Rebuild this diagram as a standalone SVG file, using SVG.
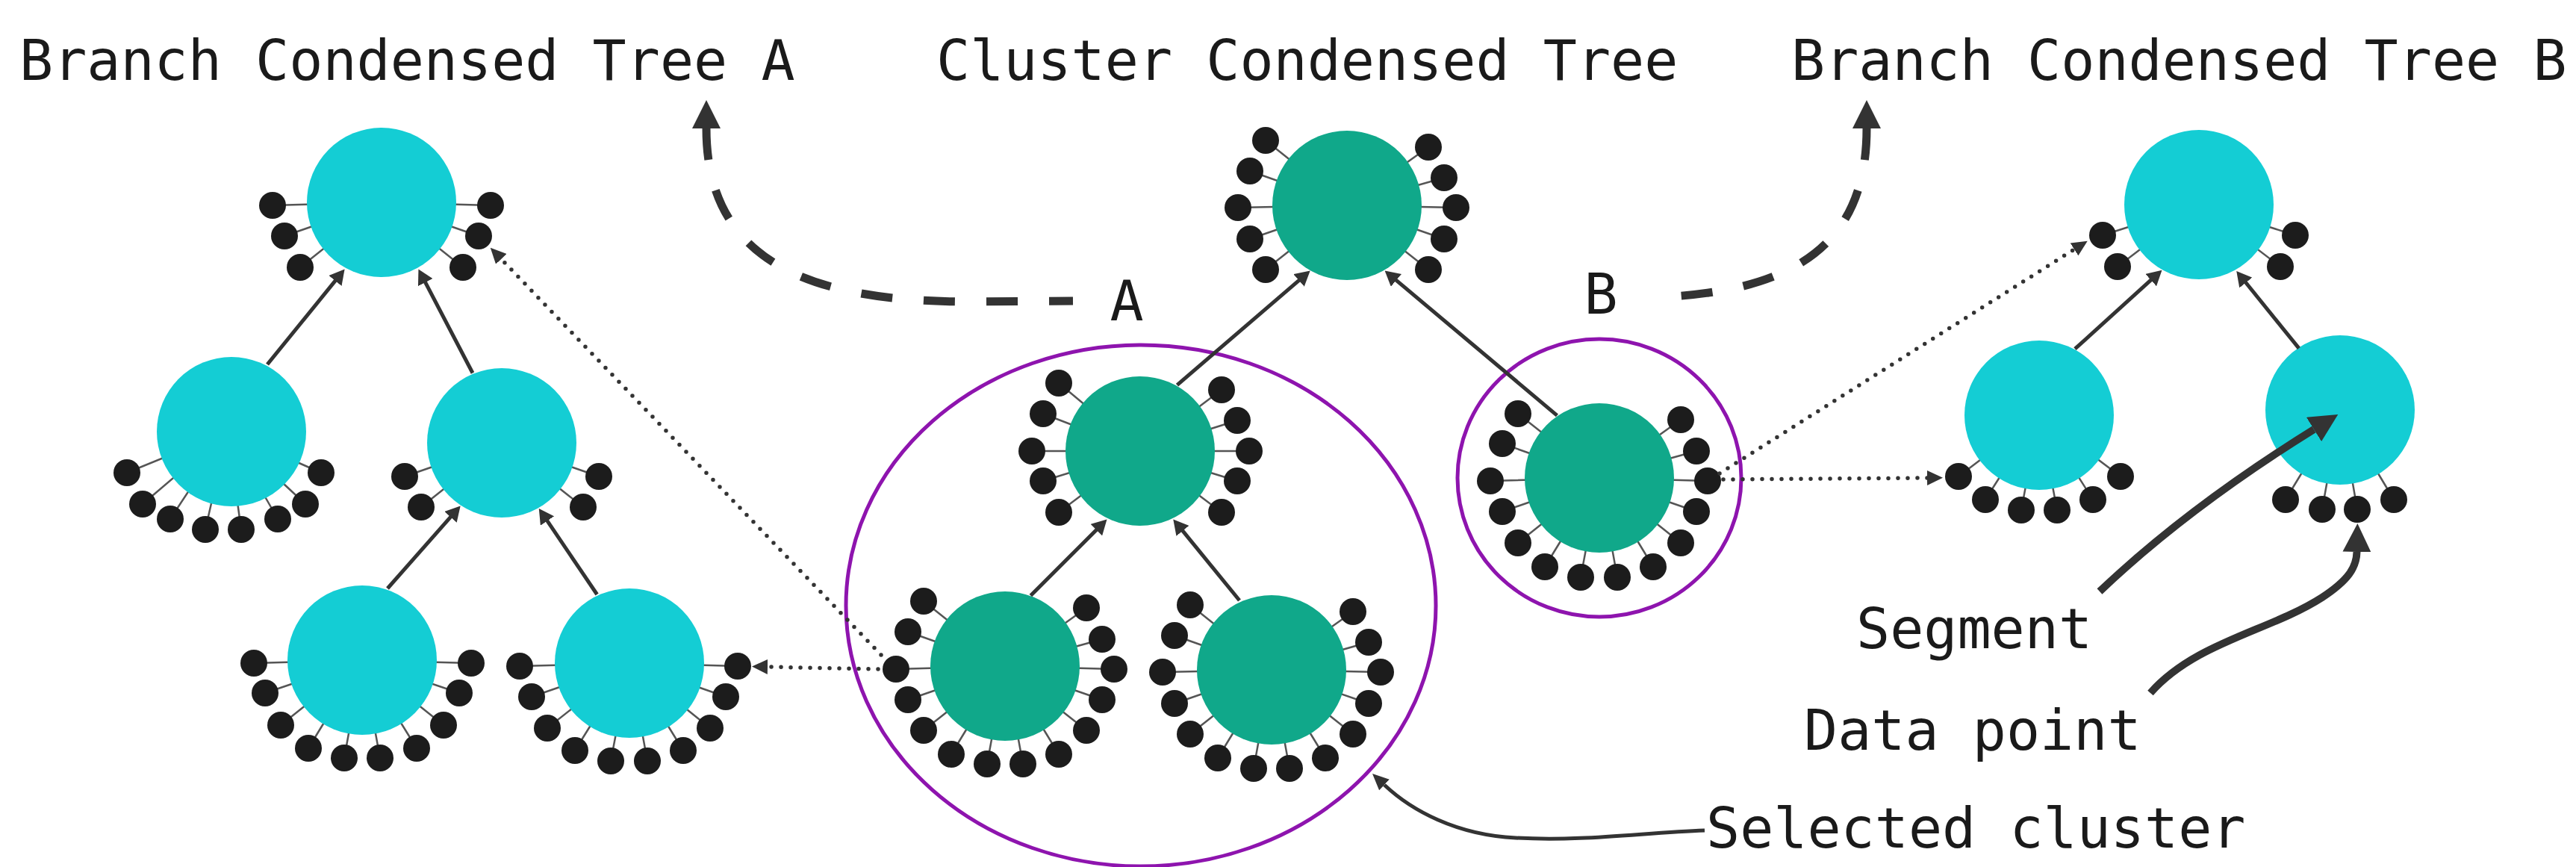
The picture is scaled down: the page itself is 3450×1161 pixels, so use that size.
<svg xmlns="http://www.w3.org/2000/svg" width="3450" height="1161" viewBox="0 0 3450 1161">
<style>
.t{font-family:"DejaVu Sans Mono","Liberation Mono",monospace;font-size:75px;fill:#1a1a1a}
.cy{fill:#14cdd4}
.gr{fill:#10a88a}
.d{fill:#1c1c1c}
.sp{stroke:#555;stroke-width:2.5;fill:none}
.sel{fill:none;stroke:#8e14ae;stroke-width:5}
.edge{fill:none;stroke:#333;stroke-width:5;marker-end:url(#ah)}
.dotl{fill:none;stroke:#333;stroke-width:5.5;stroke-linecap:round;stroke-dasharray:0 13;marker-end:url(#ad)}
.dash{fill:none;stroke:#333;stroke-width:11;stroke-dasharray:42 42;marker-start:url(#ab)}
.call{fill:none;stroke:#333;stroke-width:10;marker-end:url(#ab)}
.callt{fill:none;stroke:#333;stroke-width:5;marker-end:url(#as)}
</style>
<defs>
<marker id="ah" markerUnits="userSpaceOnUse" viewBox="0 0 20 22" markerWidth="20" markerHeight="22" refX="8" refY="11" orient="auto"><path d="M0,0 L20,11 L0,22 z" fill="#333"/></marker>
<marker id="ad" markerUnits="userSpaceOnUse" viewBox="0 0 21 20" markerWidth="21" markerHeight="20" refX="0" refY="10" orient="auto"><path d="M0,0 L21,10 L0,20 z" fill="#333"/></marker>
<marker id="ab" markerUnits="userSpaceOnUse" viewBox="0 0 38 38" markerWidth="38" markerHeight="38" refX="0" refY="19" orient="auto-start-reverse"><path d="M0,0 L38,19 L0,38 z" fill="#333"/></marker>
<marker id="as" markerUnits="userSpaceOnUse" viewBox="0 0 22 20" markerWidth="22" markerHeight="20" refX="0" refY="10" orient="auto"><path d="M0,0 L22,10 L0,20 z" fill="#333"/></marker>
</defs>
<rect width="3450" height="1161" fill="#fff"/>

<g id="titles">
<text class="t" x="26" y="107">Branch Condensed Tree A</text>
<text class="t" x="1254" y="107">Cluster Condensed Tree</text>
<text class="t" x="2399" y="107">Branch Condensed Tree B</text>
<text class="t" x="1509" y="429" text-anchor="middle">A</text>
<text class="t" x="2144" y="420" text-anchor="middle">B</text>
<text class="t" x="2486" y="868">Segment</text>
<text class="t" x="2416" y="1004">Data point</text>
<text class="t" x="2285" y="1135">Selected cluster</text>
</g>

<g id="selected-clusters">
<ellipse id="cluster-A" class="sel" cx="1528" cy="811" rx="395" ry="349"/>
<ellipse id="cluster-B" class="sel" cx="2142" cy="640" rx="190" ry="186"/>
</g>

<!-- Branch Condensed Tree A -->
<g id="bA-top">
<path class="sp" d="M365,275L511,271M381,316L511,271M402,358L511,271M657,275L511,271M641,316L511,271M620,358L511,271"/>
<circle class="cy" cx="511" cy="271" r="100"/>
<circle class="d" cx="365" cy="275" r="18"/><circle class="d" cx="381" cy="316" r="18"/><circle class="d" cx="402" cy="358" r="18"/>
<circle class="d" cx="657" cy="275" r="18"/><circle class="d" cx="641" cy="316" r="18"/><circle class="d" cx="620" cy="358" r="18"/>
</g>
<g id="bA-midleft">
<path class="sp" d="M170,633L305,578M191,675L305,578M228,695L305,578M275,709L305,578M323,709L305,578M372,695L305,578M409,675L305,578M430,633L305,578"/>
<circle class="cy" cx="310" cy="578" r="100"/>
<circle class="d" cx="170" cy="633" r="18"/><circle class="d" cx="191" cy="675" r="18"/><circle class="d" cx="228" cy="695" r="18"/><circle class="d" cx="275" cy="709" r="18"/>
<circle class="d" cx="323" cy="709" r="18"/><circle class="d" cx="372" cy="695" r="18"/><circle class="d" cx="409" cy="675" r="18"/><circle class="d" cx="430" cy="633" r="18"/>
</g>
<g id="bA-midright">
<path class="sp" d="M542,638L672,593M564,679L672,593M802,638L672,593M781,679L672,593"/>
<circle class="cy" cx="672" cy="593" r="100"/>
<circle class="d" cx="542" cy="638" r="18"/><circle class="d" cx="564" cy="679" r="18"/><circle class="d" cx="802" cy="638" r="18"/><circle class="d" cx="781" cy="679" r="18"/>
</g>
<g id="bA-botleft">
<path class="sp" d="M340,888L485,884M355,928L485,884M376,971L485,884M413,1002L485,884M461,1015L485,884M509,1015L485,884M558,1002L485,884M594,971L485,884M615,928L485,884M631,888L485,884"/>
<circle class="cy" cx="485" cy="884" r="100"/>
<circle class="d" cx="340" cy="888" r="18"/><circle class="d" cx="355" cy="928" r="18"/><circle class="d" cx="376" cy="971" r="18"/><circle class="d" cx="413" cy="1002" r="18"/><circle class="d" cx="461" cy="1015" r="18"/>
<circle class="d" cx="509" cy="1015" r="18"/><circle class="d" cx="558" cy="1002" r="18"/><circle class="d" cx="594" cy="971" r="18"/><circle class="d" cx="615" cy="928" r="18"/><circle class="d" cx="631" cy="888" r="18"/>
</g>
<g id="bA-botright">
<path class="sp" d="M696,892L843,888M712,933L843,888M733,975L843,888M770,1005L843,888M818,1019L843,888M867,1019L843,888M915,1005L843,888M951,975L843,888M972,933L843,888M988,892L843,888"/>
<circle class="cy" cx="843" cy="888" r="100"/>
<circle class="d" cx="696" cy="892" r="18"/><circle class="d" cx="712" cy="933" r="18"/><circle class="d" cx="733" cy="975" r="18"/><circle class="d" cx="770" cy="1005" r="18"/><circle class="d" cx="818" cy="1019" r="18"/>
<circle class="d" cx="867" cy="1019" r="18"/><circle class="d" cx="915" cy="1005" r="18"/><circle class="d" cx="951" cy="975" r="18"/><circle class="d" cx="972" cy="933" r="18"/><circle class="d" cx="988" cy="892" r="18"/>
</g>

<!-- Cluster Condensed Tree -->
<g id="c-root">
<path class="sp" d="M1695,188L1804,275M1674,229L1804,275M1658,278L1804,275M1674,320L1804,275M1695,361L1804,275M1913,361L1804,275M1934,320L1804,275M1950,278L1804,275M1934,238L1804,275M1913,197L1804,275"/>
<circle class="gr" cx="1804" cy="275" r="100"/>
<circle class="d" cx="1695" cy="188" r="18"/><circle class="d" cx="1674" cy="229" r="18"/><circle class="d" cx="1658" cy="278" r="18"/><circle class="d" cx="1674" cy="320" r="18"/><circle class="d" cx="1695" cy="361" r="18"/>
<circle class="d" cx="1913" cy="361" r="18"/><circle class="d" cx="1934" cy="320" r="18"/><circle class="d" cx="1950" cy="278" r="18"/><circle class="d" cx="1934" cy="238" r="18"/><circle class="d" cx="1913" cy="197" r="18"/>
</g>
<g id="c-A-top">
<path class="sp" d="M1418,513L1527,604M1397,554L1527,604M1382,604L1527,604M1397,644L1527,604M1418,686L1527,604M1636,686L1527,604M1657,644L1527,604M1673,604L1527,604M1657,563L1527,604M1636,522L1527,604"/>
<circle class="gr" cx="1527" cy="604" r="100"/>
<circle class="d" cx="1418" cy="513" r="18"/><circle class="d" cx="1397" cy="554" r="18"/><circle class="d" cx="1382" cy="604" r="18"/><circle class="d" cx="1397" cy="644" r="18"/><circle class="d" cx="1418" cy="686" r="18"/>
<circle class="d" cx="1636" cy="686" r="18"/><circle class="d" cx="1657" cy="644" r="18"/><circle class="d" cx="1673" cy="604" r="18"/><circle class="d" cx="1657" cy="563" r="18"/><circle class="d" cx="1636" cy="522" r="18"/>
</g>
<g id="c-A-botleft">
<path class="sp" d="M1237,805L1346,892M1216,846L1346,892M1200,896L1346,892M1216,937L1346,892M1237,978L1346,892M1274,1010L1346,892M1322,1023L1346,892M1370,1023L1346,892M1418,1010L1346,892M1455,978L1346,892M1476,937L1346,892M1492,896L1346,892M1476,856L1346,892M1455,814L1346,892"/>
<circle class="gr" cx="1346" cy="892" r="100"/>
<circle class="d" cx="1237" cy="805" r="18"/><circle class="d" cx="1216" cy="846" r="18"/><circle class="d" cx="1200" cy="896" r="18"/><circle class="d" cx="1216" cy="937" r="18"/><circle class="d" cx="1237" cy="978" r="18"/><circle class="d" cx="1274" cy="1010" r="18"/><circle class="d" cx="1322" cy="1023" r="18"/>
<circle class="d" cx="1370" cy="1023" r="18"/><circle class="d" cx="1418" cy="1010" r="18"/><circle class="d" cx="1455" cy="978" r="18"/><circle class="d" cx="1476" cy="937" r="18"/><circle class="d" cx="1492" cy="896" r="18"/><circle class="d" cx="1476" cy="856" r="18"/><circle class="d" cx="1455" cy="814" r="18"/>
</g>
<g id="c-A-botright">
<path class="sp" d="M1594,810L1703,897M1573,851L1703,897M1557,900L1703,897M1573,942L1703,897M1594,983L1703,897M1631,1015L1703,897M1679,1029L1703,897M1727,1029L1703,897M1775,1015L1703,897M1812,983L1703,897M1833,942L1703,897M1849,900L1703,897M1833,860L1703,897M1812,819L1703,897"/>
<circle class="gr" cx="1703" cy="897" r="100"/>
<circle class="d" cx="1594" cy="810" r="18"/><circle class="d" cx="1573" cy="851" r="18"/><circle class="d" cx="1557" cy="900" r="18"/><circle class="d" cx="1573" cy="942" r="18"/><circle class="d" cx="1594" cy="983" r="18"/><circle class="d" cx="1631" cy="1015" r="18"/><circle class="d" cx="1679" cy="1029" r="18"/>
<circle class="d" cx="1727" cy="1029" r="18"/><circle class="d" cx="1775" cy="1015" r="18"/><circle class="d" cx="1812" cy="983" r="18"/><circle class="d" cx="1833" cy="942" r="18"/><circle class="d" cx="1849" cy="900" r="18"/><circle class="d" cx="1833" cy="860" r="18"/><circle class="d" cx="1812" cy="819" r="18"/>
</g>
<g id="c-B">
<path class="sp" d="M2033,554L2142,640M2012,594L2142,640M1996,644L2142,640M2012,685L2142,640M2033,727L2142,640M2069,759L2142,640M2117,773L2142,640M2166,773L2142,640M2214,759L2142,640M2251,727L2142,640M2272,685L2142,640M2287,644L2142,640M2272,604L2142,640M2251,562L2142,640"/>
<circle class="gr" cx="2142" cy="640" r="100"/>
<circle class="d" cx="2033" cy="554" r="18"/><circle class="d" cx="2012" cy="594" r="18"/><circle class="d" cx="1996" cy="644" r="18"/><circle class="d" cx="2012" cy="685" r="18"/><circle class="d" cx="2033" cy="727" r="18"/><circle class="d" cx="2069" cy="759" r="18"/><circle class="d" cx="2117" cy="773" r="18"/>
<circle class="d" cx="2166" cy="773" r="18"/><circle class="d" cx="2214" cy="759" r="18"/><circle class="d" cx="2251" cy="727" r="18"/><circle class="d" cx="2272" cy="685" r="18"/><circle class="d" cx="2287" cy="644" r="18"/><circle class="d" cx="2272" cy="604" r="18"/><circle class="d" cx="2251" cy="562" r="18"/>
</g>

<!-- Branch Condensed Tree B -->
<g id="bB-top">
<path class="sp" d="M2816,315L2945,274M2836,357L2945,274M3074,315L2945,274M3054,357L2945,274"/>
<circle class="cy" cx="2945" cy="274" r="100"/>
<circle class="d" cx="2816" cy="315" r="18"/><circle class="d" cx="2836" cy="357" r="18"/><circle class="d" cx="3074" cy="315" r="18"/><circle class="d" cx="3054" cy="357" r="18"/>
</g>
<g id="bB-midleft">
<path class="sp" d="M2623,638L2731,556M2659,669L2731,556M2707,683L2731,556M2755,683L2731,556M2803,669L2731,556M2840,638L2731,556"/>
<circle class="cy" cx="2731" cy="556" r="100"/>
<circle class="d" cx="2623" cy="638" r="18"/><circle class="d" cx="2659" cy="669" r="18"/><circle class="d" cx="2707" cy="683" r="18"/><circle class="d" cx="2755" cy="683" r="18"/><circle class="d" cx="2803" cy="669" r="18"/><circle class="d" cx="2840" cy="638" r="18"/>
</g>
<g id="bB-midright">
<path class="sp" d="M3061,669L3134,549M3110,682L3134,549M3157,682L3134,549M3206,669L3134,549"/>
<circle class="cy" cx="3134" cy="549" r="100"/>
<circle class="d" cx="3061" cy="669" r="18"/><circle class="d" cx="3110" cy="682" r="18"/><circle class="d" cx="3157" cy="682" r="18"/><circle class="d" cx="3206" cy="669" r="18"/>
</g>

<g id="connectors">
<path class="edge" d="M358,488L454,369.8"/>
<path class="edge" d="M633,499.5L566,371.1"/>
<path class="edge" d="M519,788L608.7,686.4"/>
<path class="edge" d="M799.6,796L728.5,690.9"/>
<path class="edge" d="M1576.5,515.6L1745.6,370.3"/>
<path class="edge" d="M2085.4,556.3L1863.8,370.2"/>
<path class="edge" d="M1380.4,797.5L1474,703.9"/>
<path class="edge" d="M1660,804L1578.9,704.7"/>
<path class="edge" d="M2779,467.2L2886.6,369.7"/>
<path class="edge" d="M3078.9,466.4L3002.8,372.3"/>
<path class="dotl" d="M1176,896L1028,893"/>
<path class="dotl" d="M1180,877L671.3,346.9"/>
<path class="dotl" d="M2308,642L2581,640"/>
<path class="dotl" d="M2303,634L2778,333.9"/>
<path class="dash" d="M946,172C946,360 1100,404 1300,404L1437,403"/>
<path class="dash" d="M2500,172C2500,330 2400,390 2222,398"/>
<path class="call" d="M2812,792Q2930,680 3099,575"/>
<path class="call" d="M2880,928C2940,860 3040,845 3110,800C3145,777 3156,760 3156.5,739"/>
<path class="callt" d="M2283,1112C2200,1115 2120,1127 2030,1122C1950,1118 1890,1085 1854,1051"/>
</g>
</svg>
